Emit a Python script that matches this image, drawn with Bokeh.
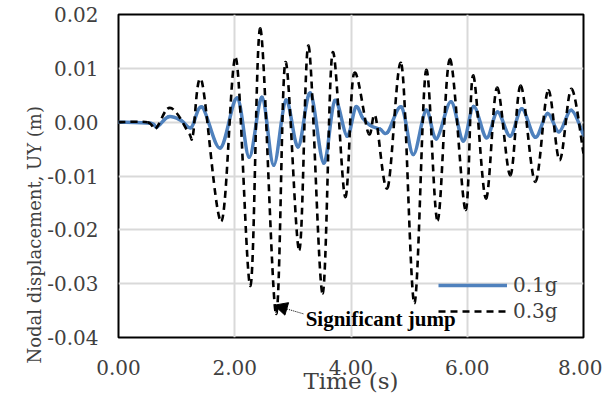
from bokeh.plotting import figure
from bokeh.models import (FixedTicker, PrintfTickFormatter, Label, Arrow,
                          NormalHead, Legend, LegendItem, Title)
from bokeh.embed import file_html
from bokeh.resources import INLINE

# ---- data (time s, displacement m) ----
t_01 = [0.00, 0.55, 0.66, 0.86, 1.08, 1.25, 1.44, 1.75, 2.04, 2.25, 2.47,
        2.67, 2.88, 3.09, 3.30, 3.53, 3.72, 3.93, 4.08, 4.20, 4.33, 4.50,
        4.63, 4.87, 5.07, 5.29, 5.47, 5.72, 5.93, 6.11, 6.33, 6.52, 6.74,
        6.94, 7.17, 7.38, 7.58, 7.79, 8.00]
uy_01 = [0.0000, -0.0002, -0.0009, 0.0010, 0.0003, -0.0010, 0.0028, -0.0048,
         0.0045, -0.0065, 0.0046, -0.0080, 0.0041, -0.0046, 0.0054, -0.0076,
         0.0040, -0.0026, 0.0028, 0.0008, -0.0006, -0.0013, -0.0019, 0.0028,
         -0.0060, 0.0022, -0.0031, 0.0038, -0.0035, 0.0029, -0.0029, 0.0019,
         -0.0026, 0.0025, -0.0028, 0.0016, -0.0018, 0.0022, -0.0024]

t_03 = [0.00, 0.50, 0.64, 0.84, 1.00, 1.22, 1.28, 1.43, 1.77, 2.02, 2.27,
        2.44, 2.71, 2.87, 3.11, 3.27, 3.51, 3.68, 3.90, 4.05, 4.30, 4.42,
        4.63, 4.87, 5.09, 5.29, 5.49, 5.70, 5.97, 6.10, 6.32, 6.51, 6.74,
        6.92, 7.17, 7.39, 7.59, 7.79, 8.00]
uy_03 = [0.0000, 0.0000, -0.0012, 0.0025, 0.0017, -0.0022, -0.0024, 0.0077,
         -0.0184, 0.0119, -0.0304, 0.0174, -0.0356, 0.0111, -0.0238, 0.0142,
         -0.0318, 0.0128, -0.0139, 0.0090, -0.0021, 0.0011, -0.0122, 0.0107,
         -0.0336, 0.0096, -0.0183, 0.0117, -0.0163, 0.0087, -0.0142, 0.0064,
         -0.0099, 0.0068, -0.0111, 0.0059, -0.0071, 0.0062, -0.0058]

x_ticks = [0, 2, 4, 6, 8]
y_ticks = [-0.04, -0.03, -0.02, -0.01, 0.0, 0.01, 0.02]
series_labels = ["0.1g", "0.3g"]
x_title = "Time (s)"
y_title = "Nodal displacement, UY (m)"
note_text = "Significant jump"

FONT = "DejaVu Serif"
TXT = "#404040"
BLUE = "#4F81BD"
DASH = "7 5"


def smooth_segments(xs, ys):
    """Smoothed-line (Catmull-Rom style) Bezier segments through the points."""
    n = len(xs)
    out = dict(x0=[], y0=[], x1=[], y1=[], cx0=[], cy0=[], cx1=[], cy1=[])
    for i in range(n - 1):
        a = max(i - 1, 0)
        b = min(i + 2, n - 1)
        out["x0"].append(xs[i]); out["y0"].append(ys[i])
        out["x1"].append(xs[i + 1]); out["y1"].append(ys[i + 1])
        out["cx0"].append(xs[i] + (xs[i + 1] - xs[a]) / 6.0)
        out["cy0"].append(ys[i] + (ys[i + 1] - ys[a]) / 6.0)
        out["cx1"].append(xs[i + 1] - (xs[b] - xs[i]) / 6.0)
        out["cy1"].append(ys[i + 1] - (ys[b] - ys[i]) / 6.0)
    return out


p = figure(frame_width=465, frame_height=323, x_range=(0, 8),
           y_range=(-0.04, 0.02), output_backend="svg",
           toolbar_location=None, min_border_left=118, min_border_top=14,
           min_border_right=19, min_border_bottom=58)

p.outline_line_color = "black"
p.outline_line_width = 2
p.background_fill_color = "white"
p.border_fill_color = "white"

for ax in (p.xaxis[0], p.yaxis[0]):
    ax.axis_line_color = None
    ax.major_tick_line_color = None
    ax.minor_tick_line_color = None
    ax.major_tick_out = 0
    ax.major_tick_in = 0
    ax.minor_tick_out = 0
    ax.major_label_text_font = FONT
    ax.major_label_text_font_size = "20px"
    ax.major_label_text_color = TXT

p.xaxis.ticker = FixedTicker(ticks=x_ticks)
p.yaxis.ticker = FixedTicker(ticks=y_ticks)
p.xaxis.formatter = PrintfTickFormatter(format="%.2f")
p.yaxis.formatter = PrintfTickFormatter(format="%.2f")
p.xaxis.major_label_standoff = 22
p.yaxis.major_label_standoff = 20

p.xaxis.axis_label = x_title
p.xaxis.axis_label_standoff = -10
p.xaxis.axis_label_text_font = FONT
p.xaxis.axis_label_text_font_size = "23px"
p.xaxis.axis_label_text_font_style = "normal"
p.xaxis.axis_label_text_color = TXT

p.add_layout(Title(text=y_title, align="left", offset=-26, standoff=0,
                   text_font=FONT, text_font_size="18px",
                   text_font_style="normal", text_color=TXT), "left")

p.xgrid.ticker = FixedTicker(ticks=x_ticks)
p.ygrid.ticker = FixedTicker(ticks=y_ticks)
p.grid.grid_line_color = "#d9d9d9"
p.grid.grid_line_width = 2

s01 = smooth_segments(t_01, uy_01)
s03 = smooth_segments(t_03, uy_03)
p.bezier(line_color=BLUE, line_width=3.5, line_cap="round", **s01)
p.bezier(line_color="black", line_width=2.6, line_dash=DASH, **s03)

# legend keys (same styles as the series; one point only, so no visible mark)
k1 = p.line(t_01[:1], uy_01[:1], line_color=BLUE, line_width=3.5)
k3 = p.line(t_03[:1], uy_03[:1], line_color="black", line_width=2.6,
            line_dash=DASH)

legend = Legend(items=[LegendItem(label=series_labels[0], renderers=[k1]),
                       LegendItem(label=series_labels[1], renderers=[k3])],
                location=(320, 14), orientation="vertical",
                glyph_width=69, glyph_height=20, label_height=20,
                label_standoff=6, spacing=2, padding=0, margin=0,
                border_line_color=None, background_fill_alpha=0,
                label_text_font=FONT, label_text_font_size="20px",
                label_text_color=TXT)
p.add_layout(legend)

# annotation
p.add_layout(Arrow(end=NormalHead(size=13, fill_color="black",
                                  line_color="black"),
                   x_start=3.18, y_start=-0.0356, x_end=2.68, y_end=-0.0340,
                   line_color="black", line_width=1, line_dash="1 1"))
p.add_layout(Label(x=3.22, y=-0.0365, text=note_text,
                   text_font="Liberation Serif", text_font_style="bold",
                   text_font_size="21px", text_color="black",
                   text_align="left", text_baseline="middle"))

open("out.html", "w").write(file_html(p, INLINE))
